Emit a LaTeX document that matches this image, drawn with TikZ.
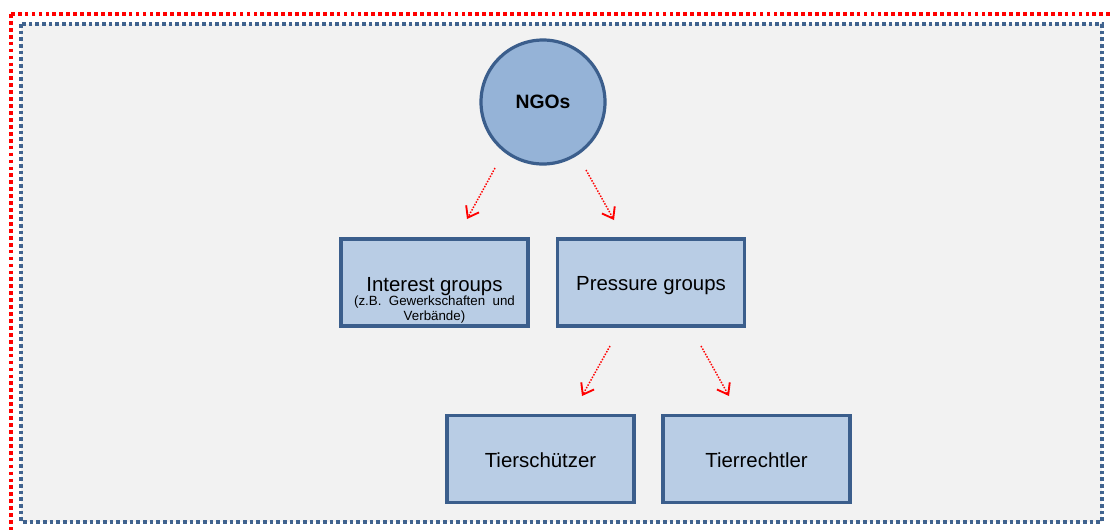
\documentclass[tikz,border=0pt]{standalone}
\usepackage{fontspec}
\setmainfont{Liberation Sans}
\usetikzlibrary{arrows.meta}
\definecolor{panelgray}{HTML}{F2F2F2}
\definecolor{boxfill}{HTML}{B9CDE5}
\definecolor{circfill}{HTML}{95B3D7}
\definecolor{boxline}{HTML}{3B5E8C}
\definecolor{frameblue}{HTML}{40638F}
\tikzset{
  px/.style={x=0.75pt,y=-0.75pt},
  groupbox/.style={draw=boxline, fill=boxfill, line width=2.4pt,
    minimum width=140.25pt, minimum height=65.25pt, inner sep=0pt},
  boxtext/.style={font=\fontsize{15.3pt}{17pt}\selectfont, inner sep=0pt},
  subtext/.style={font=\fontsize{10pt}{11pt}\selectfont, inner sep=0pt},
  orgcircle/.style={circle, draw=boxline, fill=circfill, line width=2.4pt,
    minimum size=93pt, inner sep=0pt,
    font=\fontsize{14.5pt}{17pt}\selectfont\bfseries},
  linkarrow/.style={draw=red, line width=1.1pt, dash pattern=on 1.1pt off 1.1pt,
    -{Straight Barb[length=7.5pt,width=11pt,line width=1.4pt]}},
  outerframe/.style={draw=red, line width=2.8pt, dash pattern=on 2.8pt off 2.4pt},
  innerframe/.style={draw=frameblue, fill=panelgray, line width=2.8pt, dash pattern=on 2.8pt off 2.2pt}
}
\begin{document}
\begin{tikzpicture}[px]
  \clip (0,0) rectangle (1110,529);
  \fill[white] (0,0) rectangle (1110,529);
  % frames
  \draw[outerframe] (11,14) rectangle (1125,545);
  \draw[innerframe] (21,24) rectangle (1102,522);

  % boxes and circle
  \node[orgcircle] (ngo) at (543,102) {NGOs};
  \node[groupbox] (ig) at (434.5,282.5) {};
  \node[groupbox] (pg) at (651,282.5) {};
  \node[groupbox] (ts) at (540.5,459) {};
  \node[groupbox] (tr) at (756.5,459) {};

  % box labels
  \node[boxtext, anchor=base] (igtext) at (434.5,291.5) {Interest groups};
  \node[subtext, anchor=base] (igsub1) at (434.5,305.5) {(z.B.\ \ Gewerkschaften\ \ und};
  \node[subtext, anchor=base] (igsub2) at (434.5,320) {Verbände)};
  \node[boxtext, anchor=base] (pgtext) at (651,290.5) {Pressure groups};
  \node[boxtext, anchor=base] (tstext) at (540.5,467.5) {Tierschützer};
  \node[boxtext, anchor=base] (trtext) at (756.5,467.5) {Tierrechtler};

  % arrow ends
  \coordinate (a1s) at (495,168);
  \coordinate (a1e) at (467,219);
  \coordinate (a2s) at (586,170);
  \coordinate (a2e) at (614,220);
  \coordinate (a3s) at (610,346);
  \coordinate (a3e) at (582,396);
  \coordinate (a4s) at (701,346);
  \coordinate (a4e) at (729,396);

  \draw[linkarrow] (a1s) -- (a1e);
  \draw[linkarrow] (a2s) -- (a2e);
  \draw[linkarrow] (a3s) -- (a3e);
  \draw[linkarrow] (a4s) -- (a4e);
\end{tikzpicture}
\end{document}
